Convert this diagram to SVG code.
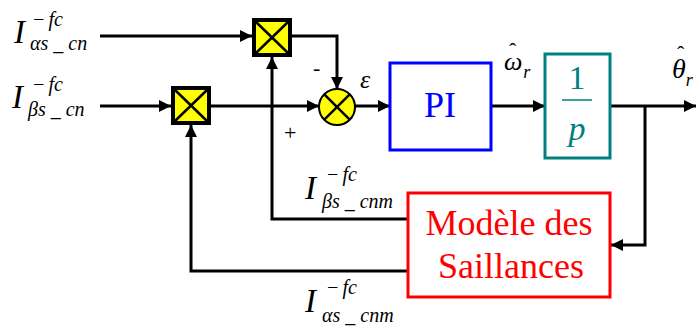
<svg xmlns="http://www.w3.org/2000/svg" width="696" height="327" viewBox="0 0 696 327">
<style>
.w{fill:none;stroke:#000;stroke-width:3}
.mul{fill:#ffff00;stroke:#000;stroke-width:4}
.x{stroke:#000;stroke-width:2.5}
text{font-family:'Liberation Serif','Times New Roman',serif}
.it{font-style:italic;fill:#000}
</style>
<defs>
<marker id="ar" markerUnits="userSpaceOnUse" markerWidth="13" markerHeight="12" refX="12" refY="6" orient="auto">
<path d="M0,0 L12,6 L0,12 z" fill="#000"/>
</marker>
</defs>
<g id="connectors">
<path class="w" d="M100,36 H252" marker-end="url(#ar)"/>
<path class="w" d="M100,106 H171" marker-end="url(#ar)"/>
<path class="w" d="M292,36 H337 V89" marker-end="url(#ar)"/>
<path class="w" d="M211,106 H319" marker-end="url(#ar)"/>
<path class="w" d="M355,106 H390" marker-end="url(#ar)"/>
<path class="w" d="M491,106 H545" marker-end="url(#ar)"/>
<path class="w" d="M610,106 H696" marker-end="url(#ar)"/>
<path class="w" d="M645,106 V245 H611" marker-end="url(#ar)"/>
<path class="w" d="M408,219 H272 V57" marker-end="url(#ar)"/>
<path class="w" d="M408,271 H191 V125" marker-end="url(#ar)"/>
</g>
<g id="mul1">
<rect class="mul" x="254" y="20" width="36" height="35"/>
<line class="x" x1="256" y1="22" x2="288" y2="53"/>
<line class="x" x1="288" y1="22" x2="256" y2="53"/>
</g>
<g id="mul2">
<rect class="mul" x="173" y="88" width="36" height="35"/>
<line class="x" x1="175" y1="90" x2="207" y2="121"/>
<line class="x" x1="207" y1="90" x2="175" y2="121"/>
</g>
<g id="sum">
<circle cx="337" cy="107" r="18" fill="#ffff00" stroke="#000" stroke-width="2"/>
<line class="x" x1="324.3" y1="94.3" x2="349.7" y2="119.7"/>
<line class="x" x1="349.7" y1="94.3" x2="324.3" y2="119.7"/>
<text x="313" y="75" font-size="22">-</text>
<text x="284" y="140" font-size="22">+</text>
</g>
<g id="pi">
<rect x="390" y="63" width="101" height="87" fill="#fff" stroke="#0000ff" stroke-width="3"/>
<text x="440" y="117" font-size="36" fill="#0000ff" text-anchor="middle">PI</text>
</g>
<g id="integ">
<rect x="545" y="54" width="65" height="104" fill="#fff" stroke="#008080" stroke-width="3"/>
<text x="577" y="89" font-size="33" fill="#008080" text-anchor="middle">1</text>
<line x1="562" y1="100" x2="592" y2="100" stroke="#008080" stroke-width="1.5"/>
<text x="577" y="140" font-size="34" font-style="italic" fill="#008080" text-anchor="middle">p</text>
</g>
<g id="model">
<rect x="408" y="193" width="202" height="104" fill="#fff" stroke="#ff0000" stroke-width="3"/>
<text x="509" y="235" font-size="36" fill="#ff0000" text-anchor="middle">Modèle des</text>
<text x="511" y="278" font-size="36" fill="#ff0000" text-anchor="middle">Saillances</text>
</g>
<g id="labels">
<text class="it" x="14" y="43" font-size="33">I</text>
<text class="it" x="32" y="26" font-size="20">−<tspan dx="3">fc</tspan></text>
<text class="it" x="30" y="50" font-size="20">αs _ cn</text>

<text class="it" x="12" y="108" font-size="33">I</text>
<text class="it" x="32" y="91" font-size="20">−<tspan dx="3">fc</tspan></text>
<text class="it" x="28" y="116" font-size="20">βs _ cn</text>

<text class="it" x="305" y="199" font-size="33">I</text>
<text class="it" x="326" y="181" font-size="20">−<tspan dx="3">fc</tspan></text>
<text class="it" x="322" y="208" font-size="20">βs _ cnm</text>

<text class="it" x="305" y="312" font-size="33">I</text>
<text class="it" x="326" y="294" font-size="20">−<tspan dx="3">fc</tspan></text>
<text class="it" x="322" y="322" font-size="20">αs _ cnm</text>

<text class="it" x="360" y="88" font-size="26">ε</text>

<text class="it" x="504" y="70" font-size="26">ω<tspan font-size="18" dx="1" dy="8">r</tspan></text>
<text x="509" y="58" font-size="22">ˆ</text>

<text class="it" x="672" y="78" font-size="28">θ<tspan font-size="18" dy="8">r</tspan></text>
<text x="677" y="61" font-size="22">ˆ</text>
</g>
</svg>
